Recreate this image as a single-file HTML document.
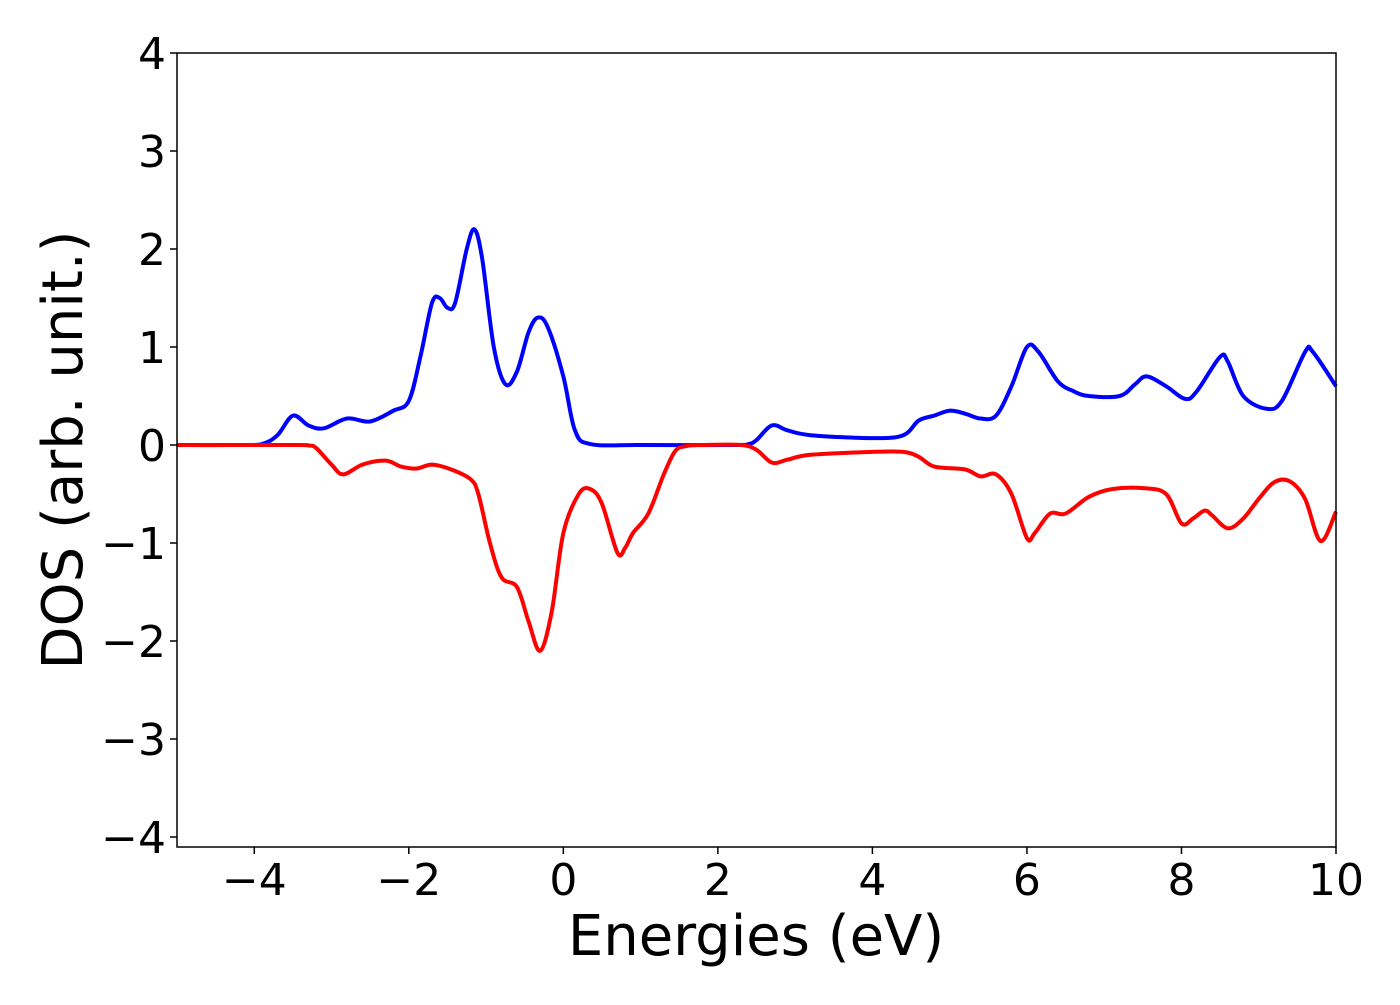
<!DOCTYPE html>
<html><head><meta charset="utf-8"><style>
body{margin:0;background:#fff}
svg{font-family:"DejaVu Sans","Liberation Sans",sans-serif}
</style></head><body>
<svg id="chart" width="1400" height="1000" xmlns="http://www.w3.org/2000/svg">
<rect width="1400" height="1000" fill="#fff"/>
<g id="ticks"></g>
<g id="lines"></g>
<rect x="177" y="53" width="1159" height="794" fill="none" stroke="#000" stroke-width="1.5"/>
<text x="756" y="955" font-size="56" text-anchor="middle">Energies (eV)</text>
<text transform="translate(82,450) rotate(-90)" font-size="56" text-anchor="middle">DOS (arb. unit.)</text>
</svg>
<script>
const xTicks=[-4,-2,0,2,4,6,8,10];
const yTicks=[-4,-3,-2,-1,0,1,2,3,4];
const upX=[-5,-4.2,-3.9,-3.7,-3.5,-3.3,-3.1,-2.8,-2.5,-2.2,-2.0,-1.85,-1.7,-1.6,-1.5,-1.4,-1.25,-1.15,-1.05,-0.9,-0.75,-0.6,-0.45,-0.33,-0.2,0,0.15,0.35,1,2.2,2.4,2.5,2.7,2.9,3.2,4.0,4.4,4.6,4.8,5.0,5.2,5.4,5.6,5.8,6.0,6.15,6.4,6.6,6.8,7.2,7.4,7.55,7.8,8.05,8.2,8.5,8.6,8.8,9.1,9.3,9.6,9.7,10];
const upY=[0,0,0.01,0.1,0.3,0.2,0.17,0.27,0.24,0.35,0.45,0.9,1.45,1.5,1.4,1.45,2.0,2.2,1.9,1.0,0.62,0.75,1.15,1.3,1.2,0.7,0.15,0.01,0,0,0.01,0.05,0.2,0.15,0.1,0.07,0.1,0.25,0.3,0.35,0.32,0.27,0.3,0.6,1.0,0.95,0.65,0.55,0.5,0.5,0.62,0.7,0.6,0.47,0.55,0.9,0.85,0.5,0.37,0.45,0.95,0.95,0.6];
const dnX=[-5,-3.5,-3.3,-3.2,-3.0,-2.85,-2.6,-2.3,-2.1,-1.9,-1.7,-1.45,-1.2,-1.1,-0.95,-0.8,-0.6,-0.45,-0.3,-0.15,0,0.2,0.35,0.5,0.7,0.8,0.9,1.1,1.3,1.45,1.6,1.8,2.3,2.5,2.7,2.9,3.2,4.0,4.4,4.6,4.8,5.2,5.4,5.6,5.8,6.0,6.1,6.3,6.5,6.8,7.1,7.5,7.8,8.0,8.15,8.3,8.4,8.6,8.8,9.0,9.2,9.4,9.6,9.8,10];
const dnY=[0,0,-0.005,-0.03,-0.2,-0.3,-0.2,-0.16,-0.22,-0.24,-0.2,-0.25,-0.35,-0.5,-1.0,-1.35,-1.45,-1.8,-2.1,-1.7,-0.9,-0.5,-0.45,-0.6,-1.1,-1.05,-0.9,-0.7,-0.3,-0.06,-0.01,0,0,-0.05,-0.18,-0.15,-0.1,-0.07,-0.07,-0.12,-0.22,-0.25,-0.32,-0.3,-0.5,-0.95,-0.9,-0.7,-0.7,-0.53,-0.45,-0.44,-0.5,-0.8,-0.75,-0.67,-0.72,-0.85,-0.75,-0.55,-0.38,-0.37,-0.55,-0.98,-0.68];
const NS='http://www.w3.org/2000/svg';
const sx=v=>177+(v+5)*1159/15;
const sy=v=>445-v*98;
const tk=document.getElementById('ticks');
xTicks.forEach(t=>{
 const l=document.createElementNS(NS,'line');
 l.setAttribute('x1',sx(t));l.setAttribute('x2',sx(t));l.setAttribute('y1',847);l.setAttribute('y2',854);l.setAttribute('stroke','#000');l.setAttribute('stroke-width','1.5');
 
 
 tk.appendChild(l);
 const s=document.createElementNS(NS,'text');
 s.setAttribute('x',sx(t));s.setAttribute('y',895);s.setAttribute('font-size','44');s.setAttribute('text-anchor','middle');
 s.textContent=t<0?'\u2212'+(-t):String(t);
 
 
 tk.appendChild(s);
});
yTicks.forEach(t=>{
 const l=document.createElementNS(NS,'line');
 l.setAttribute('x1',170);l.setAttribute('x2',177);l.setAttribute('y1',sy(t));l.setAttribute('y2',sy(t));l.setAttribute('stroke','#000');l.setAttribute('stroke-width','1.5');
 
 
 tk.appendChild(l);
 const s=document.createElementNS(NS,'text');
 s.setAttribute('x',166);s.setAttribute('y',sy(t)+16);s.setAttribute('font-size','44');s.setAttribute('text-anchor','end');
 s.textContent=t<0?'\u2212'+(-t):String(t);
 
 
 tk.appendChild(s);
});
function path(xs,ys){
 const p=xs.map((x,i)=>[sx(x),sy(ys[i])]);
 let d='M'+p[0][0]+','+p[0][1];
 for(let i=0;i<p.length-1;i++){
  const p0=p[Math.max(0,i-1)],p1=p[i],p2=p[i+1],p3=p[Math.min(p.length-1,i+2)];
  const c1=[p1[0]+(p2[0]-p0[0])/6,p1[1]+(p2[1]-p0[1])/6];
  const c2=[p2[0]-(p3[0]-p1[0])/6,p2[1]-(p3[1]-p1[1])/6];
  d+=` C${c1[0]},${c1[1]} ${c2[0]},${c2[1]} ${p2[0]},${p2[1]}`;
 }
 return d;
}
const g=document.getElementById('lines');
const up=document.createElementNS(NS,'path');
up.setAttribute('d',path(upX,upY));up.setAttribute('fill','none');up.setAttribute('stroke','#0000ff');up.setAttribute('stroke-width','4');


g.appendChild(up);
const dn=document.createElementNS(NS,'path');
dn.setAttribute('d',path(dnX,dnY));dn.setAttribute('fill','none');dn.setAttribute('stroke','#ff0000');dn.setAttribute('stroke-width','4');


g.appendChild(dn);
</script>
</body></html>
